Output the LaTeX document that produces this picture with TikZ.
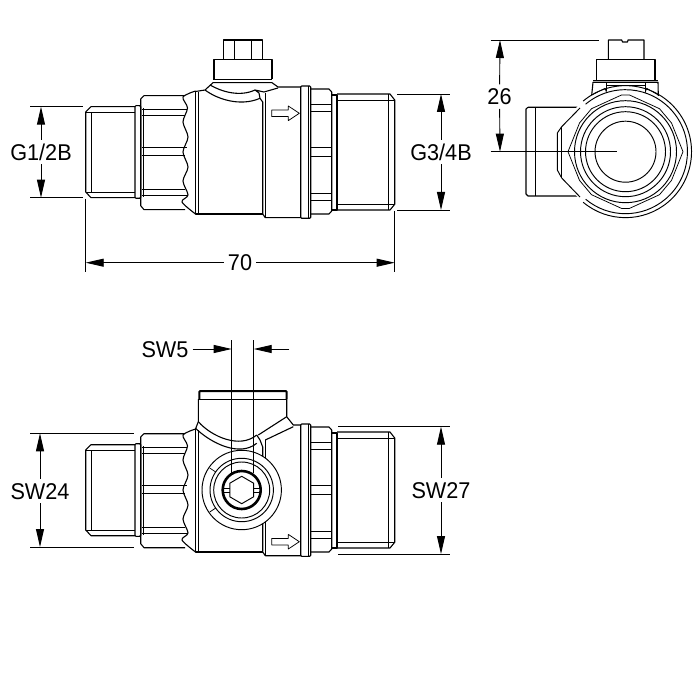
\documentclass[tikz,border=0pt]{standalone}
\usepackage{fontspec}
\setmainfont[FakeStretch=0.95]{Liberation Sans}
\usetikzlibrary{arrows.meta}
\tikzset{
    part/.style={line width=1.1pt, line join=round},
    fine/.style={line width=0.75pt, line join=round},
    ring/.style={line width=0.95pt},
    dimline/.style={line width=0.9pt, -{Triangle[length=18pt,width=8pt]}},
    extline/.style={line width=0.9pt},
    dimtext/.style={font=\fontsize{22.8}{23}\selectfont, inner sep=4pt, text height=16.2pt, text depth=0pt},
    flowarrow/.pic={
        \draw[fine] (271.7,-3.3) -- (288.3,-3.3) -- (288.3,-7.3) -- (299.3,0) -- (288.3,7.3)
            -- (288.3,3.3) -- (271.7,3.3) -- cycle;
    },
    valvesides/.pic={
        \draw[part] (135,106.7) -- (91,106.7) -- (85.7,112) -- (85.7,192) -- (91,197.7) -- (135,197.7);
        \draw[fine] (91.7,112.3) -- (91.7,192.7);
        \draw[fine] (85.7,112.3) -- (135,112.3);
        \draw[fine] (85.7,192.7) -- (135,192.7);
        \draw[part, rounded corners=1pt] (135,105.7) rectangle (140.7,198.3);
        \draw[part] (185,95.7) -- (144,95.7) -- (140.7,99) -- (140.7,205.7) -- (144,209.7) -- (185,209.7);
        \draw[fine] (143.3,108) -- (143.3,197);
        \draw[fine] (142,109.3) -- (187,109.3);
        \draw[fine] (142,115.7) -- (185,115.7);
        \draw[fine] (142,147.7) -- (187,147.7);
        \draw[fine] (142,155.7) -- (185,155.7);
        \draw[fine] (142,189.3) -- (185,189.3);
        \draw[fine] (142,195) -- (187,195);
        \draw[part] plot[smooth] coordinates {(195.5,91) (183,97) (187.5,108) (183,122) (188,137)
            (183,152) (188,167) (183,181) (188,195) (182,202) (195.5,214)};
        \draw[part] (195.5,91) -- (195.5,214) -- (262.7,214);
        \draw[fine] (198.3,92) -- (198.3,214);
        \draw[part] (262.7,214) -- (265.3,217.7) -- (301,217.7);
        \draw[part, rounded corners=1pt] (300.7,86) rectangle (310.7,218.3);
        \draw[fine] (308.3,86) -- (308.3,218.3);
        \draw[part] (310.7,89) -- (329,89) -- (331.7,92) -- (331.7,211) -- (329,214) -- (310.7,214);
        \foreach \flaty in {104,111.7,147.3,156.7,193.3,200}
            \draw[fine] (310.7,\flaty) -- (331.7,\flaty);
        \draw[part] (331.7,95) -- (337,95) -- (337,210) -- (331.7,210);
        \draw[part] (337,94) -- (390,94) -- (394.7,100) -- (394.7,204.3) -- (390,210) -- (337,210);
        \draw[fine] (337,100) -- (394.7,100);
        \draw[fine] (337,204.3) -- (394.7,204.3);
        \draw[fine] (388,94) -- (388,210);
    }
}
\begin{document}
\begin{tikzpicture}[x=1pt, y=-1pt]
    \useasboundingbox (0,0) rectangle (700,700);

    \pic (sidea) at (0,0) {valvesides};
    \pic (arrowa) at (0,113.3) {flowarrow};
    \draw[part] (223.3,59.3) rectangle (262.7,40);
    \draw[fine] (234,40) -- (234,59.3);
    \draw[fine] (251,40) -- (251,59.3);
    \draw[part] (214,79.3) -- (214,59.3) -- (272,59.3) -- (272,79.3);
    \draw[fine] (213,79.3) -- (272,79.3);
    \draw[part] (195.5,91.5) -- (205,90) -- (213,82.7) -- (272,82.7) -- (278,87) -- (301,87);
    \draw[part] (205,90) .. controls (217,99) and (240,107) .. (260,98.3);
    \draw[part] (210,85) .. controls (222,92) and (240,97) .. (255,90);
    \draw[part] (278,88) -- (264,92) -- (255,90) -- (259,93) -- (260,98.3) -- (262.7,102) -- (262.7,214);
    \draw[fine] (265.3,93.5) -- (265.3,217.7);

    \draw[part] (580,107.3) -- (528,107.3) -- (526,109) -- (526,194) -- (528,196) -- (580,196);
    \draw[fine] (535,107.3) -- (535,196);
    \fill[white] (625.5,151.7) circle (66pt);
    \draw[ring] (580,108) -- (561.7,126.7) -- (557.3,133) -- (557.3,170) -- (561.7,178) -- (580,197);
    \draw[fine] (561.7,126.7) -- (561.7,178);
    \draw[ring] (583.1,101.1) arc[start angle=130, end angle=-130, radius=66pt];
    \draw[ring] (585.6,104.2) arc[start angle=130, end angle=-130, radius=62pt];
    \draw[ring] (625.5,151.7) circle (51pt);
    \draw[ring] (625.5,151.7) circle (45pt);
    \draw[ring] (625.5,151.7) circle (40pt);
    \draw[ring] (625.5,151.7) circle (30.5pt);
    \draw[fine] (568,151.7) -- (579.5,123) -- (591.5,108.7) -- (621.5,95) -- (629.5,95) -- (659.5,108.7)
        -- (671.5,123) -- (683,151.7) -- (671.5,180.4) -- (659.5,194.7) -- (629.5,208.4) -- (621.5,208.4)
        -- (591.5,194.7) -- (579.5,180.4) -- cycle;
    \draw[part] (608.3,59.3) -- (608.3,40) -- (621.7,40) -- (622.5,42) -- (627.5,42) -- (628,40) -- (644,40) -- (644,59.3);
    \draw[part] (596.7,80) -- (596.7,59.3) -- (655,59.3) -- (655,80);
    \draw[fine] (593,80) -- (658,80);
    \draw[part] (591.7,95) -- (593,82.3) -- (658,82.3) -- (658.3,96);
    \draw[fine] (606,82.3) -- (606,91);
    \draw[fine] (645.7,82.3) -- (645.7,91);
    \draw[fine] (591.7,95) -- (605,88.3) -- (606.7,93);
    \draw[fine] (658.3,95) -- (646.7,88.3) -- (645,93);
    \draw[fine] (606,85.6) -- (645.7,85.6);

    \pic (sideb) at (0,338) {valvesides};
    \pic (arrowb) at (0,541.7) {flowarrow};
    \draw[line width=2pt, rounded corners=1pt] (199.3,399) -- (199.3,391) -- (286.7,391) -- (286.7,399);
    \draw[fine] (198.3,399) -- (286.7,399);
    \draw[part] (198.3,399) -- (198.3,421.7) -- (195.5,429);
    \draw[part] (286.7,399) -- (286.7,416.7) -- (293.3,425) -- (301,425);
    \draw[part] (198.3,421.7) .. controls (212,437) and (240,449) .. (256.7,435);
    \draw[part] (195.5,428.3) .. controls (212,444) and (240,457) .. (256.7,443.3);
    \draw[part] (286.7,416.7) -- (258.3,435);
    \draw[part] (293.3,426.7) -- (265.3,440);
    \draw[part] (256.7,435) -- (260,440) -- (262.7,447) -- (262.7,551.7);
    \draw[fine] (265.3,440) -- (265.3,555);
    \draw[ring, fill=white] (241.7,490) circle (39.7pt);
    \draw[ring] (241.7,490) circle (31.7pt);
    \draw[ring] (241.7,490) circle (28pt);
    \draw[fine] (215.7,472) -- (209.7,468);
    \draw[fine] (215.7,508) -- (209.7,512);
    \draw[line width=2.6pt] (241.7,490) circle (19pt);
    \draw[ring] (241.7,476.3) -- (253.6,483.2) -- (253.6,496.8) -- (241.7,503.7) -- (229.8,496.8) -- (229.8,483.2) -- cycle;
    \draw[ring] (223,488) -- (230,488);
    \draw[ring] (223,492) -- (230,492);
    \draw[ring] (253,488) -- (260,488);
    \draw[ring] (253,492) -- (260,492);

    \node[dimtext] (gleft) at (41,152) {G1/2B};
    \coordinate (glefttop) at (41,106.7);
    \coordinate (gleftbot) at (41,197.7);
    \draw[extline] (30,106.7) -- (83,106.7);
    \draw[extline] (30,197.7) -- (83,197.7);
    \draw[dimline] (gleft) -- (glefttop);
    \draw[dimline] (gleft) -- (gleftbot);

    \node[dimtext] (gright) at (441,152) {G3/4B};
    \coordinate (grighttop) at (441,94);
    \coordinate (grightbot) at (441,210);
    \draw[extline] (397,94) -- (450,94);
    \draw[extline] (397,210) -- (450,210);
    \draw[dimline] (gright) -- (grighttop);
    \draw[dimline] (gright) -- (grightbot);

    \node[dimtext] (length) at (240,262.7) {70};
    \coordinate (lengthl) at (85.7,262.7);
    \coordinate (lengthr) at (394.7,262.7);
    \draw[extline] (85.7,199) -- (85.7,271.7);
    \draw[extline] (394.7,211) -- (394.7,271.7);
    \draw[dimline] (length) -- (lengthl);
    \draw[dimline] (length) -- (lengthr);

    \node[dimtext] (height) at (499.5,96.7) {26};
    \coordinate (heighttop) at (500,40);
    \coordinate (heightbot) at (500,151.7);
    \draw[extline] (490.7,40) -- (599,40);
    \draw[extline] (490.7,151.7) -- (617,151.7);
    \draw[dimline] (height) -- (heighttop);
    \draw[dimline] (height) -- (heightbot);

    \node[dimtext] (swfive) at (165,349) {SW5};
    \coordinate (swfivel) at (231.7,349);
    \coordinate (swfiver) at (253.7,349);
    \coordinate (swfiveend) at (289.3,349);
    \draw[extline] (231.7,340) -- (231.7,473);
    \draw[extline] (253.7,340) -- (253.7,473);
    \draw[dimline] (swfive) -- (swfivel);
    \draw[dimline] (swfiveend) -- (swfiver);

    \node[dimtext] (swleft) at (40,491) {SW24};
    \coordinate (swlefttop) at (40,433.3);
    \coordinate (swleftbot) at (40,547);
    \draw[extline] (30,433.3) -- (133.5,433.3);
    \draw[extline] (30,547) -- (133.5,547);
    \draw[dimline] (swleft) -- (swlefttop);
    \draw[dimline] (swleft) -- (swleftbot);

    \node[dimtext] (swright) at (441,490) {SW27};
    \coordinate (swrighttop) at (441,426.7);
    \coordinate (swrightbot) at (441,554);
    \draw[extline] (338,426.7) -- (450,426.7);
    \draw[extline] (338,554) -- (450,554);
    \draw[dimline] (swright) -- (swrighttop);
    \draw[dimline] (swright) -- (swrightbot);
\end{tikzpicture}
\end{document}
